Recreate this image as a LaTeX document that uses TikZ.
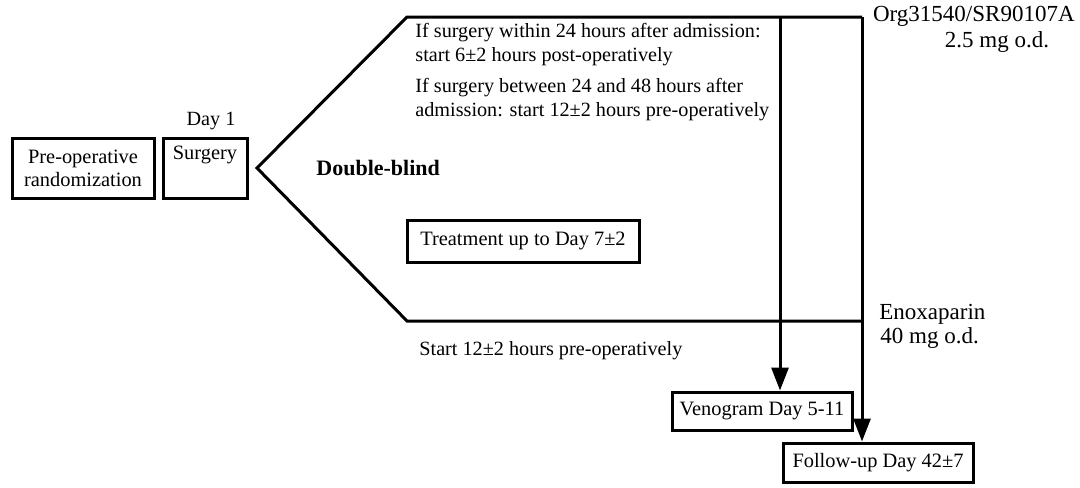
\documentclass[tikz,border=0pt]{standalone}
\usepackage{fontspec}
\setmainfont{Liberation Serif}
\usetikzlibrary{arrows.meta}
\begin{document}
\begin{tikzpicture}[x=0.5pt,y=-0.5pt,
  box/.style={draw, line width=1.5pt, inner sep=0pt, align=center, font=\fontsize{10.2}{11.5}\selectfont},
  lbl/.style={inner sep=0pt, anchor=base west, font=\fontsize{10.1}{12}\selectfont},
  big/.style={inner sep=0pt, anchor=base, font=\fontsize{11.5}{14}\selectfont},
  ln/.style={line width=1.5pt},
  arr/.style={line width=1.5pt, -{Triangle[length=11.5pt,width=8.5pt]}}]
\useasboundingbox (0,0) rectangle (1080,487);
% left boxes
\node[box, minimum width=71pt, minimum height=30pt] (pre) at (83,168) {Pre-operative\\randomization};
\node[box, minimum width=42pt, minimum height=30pt] (surg) at (205,168) {Surgery\\\strut};
\node[lbl, anchor=base] (day) at (211,125) {Day 1};
% arrow-shaped outline
\coordinate (tl) at (407,17);
\coordinate (tip) at (257,168);
\coordinate (bl) at (407,321);
\coordinate (tr) at (862,17);
\coordinate (br) at (862,321);
\coordinate (a1) at (780,17);
\draw[ln, line join=miter] (tr) -- (tl) -- (tip) -- (bl) -- (br);
% boxes
\node[box, minimum width=116pt, minimum height=21pt] (treat) at (523,241) {Treatment up to Day 7±2};
\node[box, minimum width=90pt, minimum height=19pt] (veno) at (762,411) {Venogram Day 5-11};
\node[box, minimum width=95pt, minimum height=19.5pt] (fol) at (878,462.5) {Follow-up Day 42±7};
% connectors
\draw[arr] (a1) -- (a1 |- veno.north);
\draw[arr] (tr) -- (tr |- fol.north);
% texts
\node[lbl] (t1) at (415,37) {If surgery within 24 hours after admission:};
\node[lbl] (t2) at (415,61) {start 6±2 hours post-operatively};
\node[lbl] (t3) at (415,92) {If surgery between 24 and 48 hours after};
\node[lbl] (t4) at (415,116) {admission: start 12±2 hours pre-operatively};
\node[lbl, font=\bfseries\fontsize{11}{12}\selectfont] (db) at (316,175) {Double-blind};
\node[lbl] (st) at (419,355) {Start 12±2 hours pre-operatively};
\node[big, anchor=base east] (org1) at (1075,21) {Org31540/SR90107A};
\node[big] (org2) at (997,47) {2.5 mg o.d.};
\node[big, anchor=base west] (en1) at (879,319) {Enoxaparin};
\node[big, anchor=base west] (en2) at (880,343) {40 mg o.d.};
\end{tikzpicture}
\end{document}
